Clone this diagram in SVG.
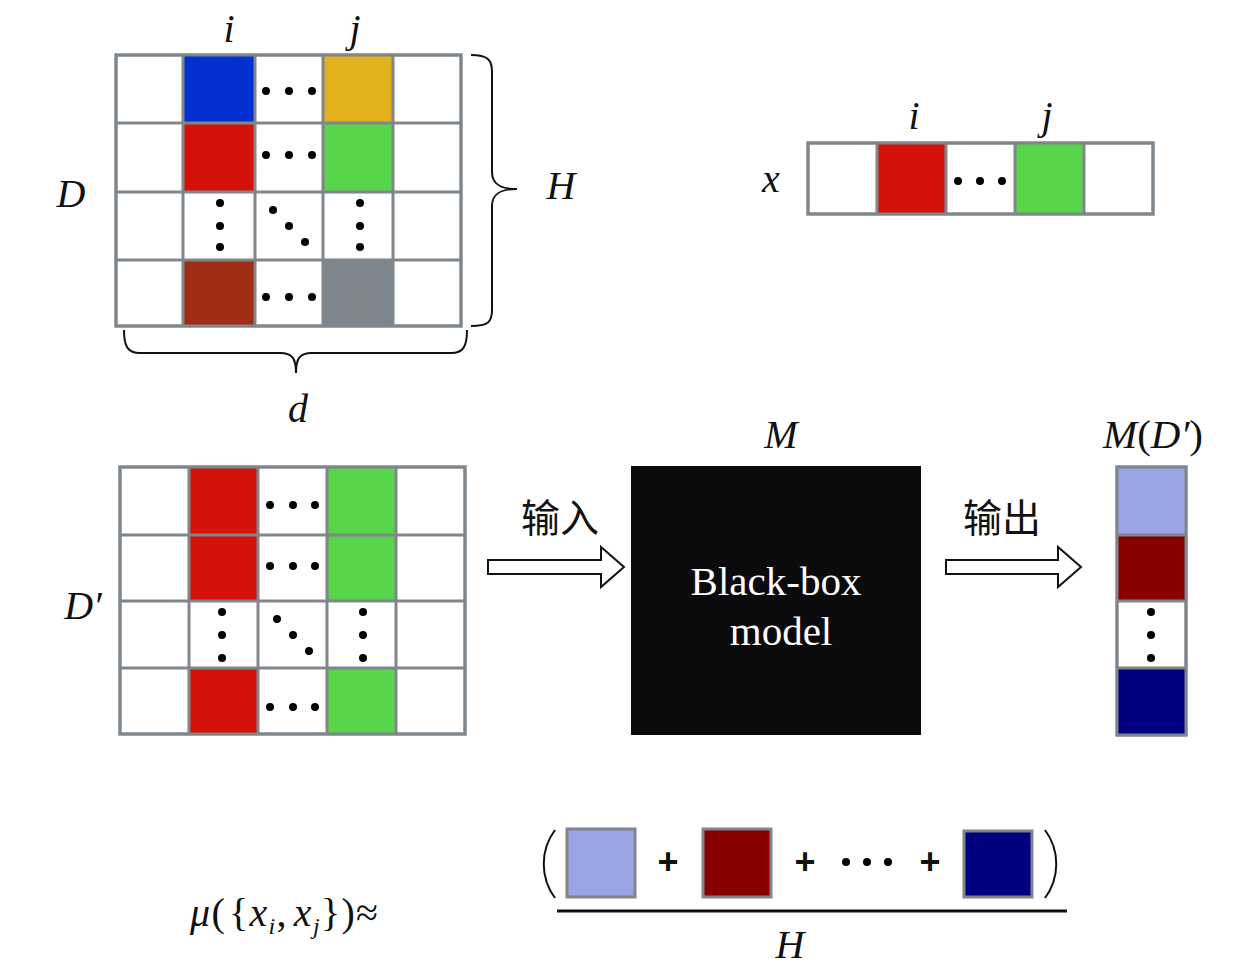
<svg xmlns="http://www.w3.org/2000/svg" width="1260" height="971" viewBox="0 0 1260 971">
<defs>
<style>
.cell{stroke:#7f868c;stroke-width:3;}
.w{fill:#ffffff;}
.m{font-family:"Liberation Serif",serif;font-style:italic;fill:#111;}
.t{font-family:"Liberation Serif",serif;fill:#fff;}
.cn{font-family:"Liberation Serif","Noto Sans CJK SC",sans-serif;fill:#111;font-size:39px;}
.br{fill:none;stroke:#111;stroke-width:2;}
.arr{fill:#fff;stroke:#111;stroke-width:2;}
.dot{fill:#000;}
.up{font-style:normal;}
</style>
</defs>
<rect width="1260" height="971" fill="#fff"/>

<!-- Top grid D -->
<g id="gridD">
<rect x="116" y="55" width="345" height="271" class="w cell"/>
<rect x="183" y="55" width="72" height="68" fill="#0330cf"/>
<rect x="323" y="55" width="70" height="68" fill="#e3b11e"/>
<rect x="183" y="123" width="72" height="69" fill="#d51209"/>
<rect x="323" y="123" width="70" height="69" fill="#58d64a"/>
<rect x="183" y="260" width="72" height="66" fill="#a22d15"/>
<rect x="323" y="260" width="70" height="66" fill="#7e868d"/>
<g class="cell" fill="none">
<rect x="116" y="55" width="345" height="271"/>
<line x1="183" y1="55" x2="183" y2="326"/>
<line x1="255" y1="55" x2="255" y2="326"/>
<line x1="323" y1="55" x2="323" y2="326"/>
<line x1="393" y1="55" x2="393" y2="326"/>
<line x1="116" y1="123" x2="461" y2="123"/>
<line x1="116" y1="192" x2="461" y2="192"/>
<line x1="116" y1="260" x2="461" y2="260"/>
</g>
<g class="dot">
<circle cx="266" cy="91" r="4"/><circle cx="289" cy="91" r="4"/><circle cx="312" cy="91" r="4"/>
<circle cx="266" cy="155" r="4"/><circle cx="289" cy="155" r="4"/><circle cx="312" cy="155" r="4"/>
<circle cx="266" cy="297" r="4"/><circle cx="289" cy="297" r="4"/><circle cx="312" cy="297" r="4"/>
<circle cx="220" cy="203" r="4"/><circle cx="220" cy="226" r="4"/><circle cx="220" cy="247" r="4"/>
<circle cx="360" cy="203" r="4"/><circle cx="360" cy="226" r="4"/><circle cx="360" cy="247" r="4"/>
<circle cx="273" cy="210" r="4"/><circle cx="289" cy="226" r="4"/><circle cx="305" cy="242" r="4"/>
</g>
<text x="229" y="42" class="m" font-size="40" text-anchor="middle">i</text>
<text x="355" y="42" class="m" font-size="40" text-anchor="middle">j</text>
<text x="71" y="207" class="m" font-size="40" text-anchor="middle">D</text>
<path class="br" d="M471,55 C488,55 492,60 492,72 L492,172 C492,184 500,189 517,189 C500,189 492,194 492,206 L492,310 C492,322 488,326 471,326"/>
<text x="561" y="199" class="m" font-size="40" text-anchor="middle">H</text>
<path class="br" d="M124,330 C124,347 128,353 140,353 L280,353 C292,353 296,358 296,373 C296,358 300,353 312,353 L451,353 C463,353 467,347 467,330"/>
<text x="298" y="422" class="m" font-size="40" text-anchor="middle">d</text>
</g>

<!-- Vector x -->
<g id="vecX">
<rect x="808" y="143" width="345" height="71" class="w cell"/>
<rect x="877" y="143" width="69" height="71" fill="#d51209"/>
<rect x="1015" y="143" width="69" height="71" fill="#58d64a"/>
<g class="cell" fill="none">
<rect x="808" y="143" width="345" height="71"/>
<line x1="877" y1="143" x2="877" y2="214"/>
<line x1="946" y1="143" x2="946" y2="214"/>
<line x1="1015" y1="143" x2="1015" y2="214"/>
<line x1="1084" y1="143" x2="1084" y2="214"/>
</g>
<g class="dot"><circle cx="958" cy="181" r="4"/><circle cx="980" cy="181" r="4"/><circle cx="1002" cy="181" r="4"/></g>
<text x="914" y="129" class="m" font-size="40" text-anchor="middle">i</text>
<text x="1047" y="129" class="m" font-size="40" text-anchor="middle">j</text>
<text x="771" y="192" class="m" font-size="40" text-anchor="middle">x</text>
</g>

<!-- Grid D' -->
<g id="gridDp">
<rect x="120" y="467" width="345" height="267" class="w cell"/>
<rect x="189" y="467" width="69" height="68" fill="#d51209"/>
<rect x="327" y="467" width="69" height="68" fill="#58d64a"/>
<rect x="189" y="535" width="69" height="66" fill="#d51209"/>
<rect x="327" y="535" width="69" height="66" fill="#58d64a"/>
<rect x="189" y="668" width="69" height="66" fill="#d51209"/>
<rect x="327" y="668" width="69" height="66" fill="#58d64a"/>
<g class="cell" fill="none">
<rect x="120" y="467" width="345" height="267"/>
<line x1="189" y1="467" x2="189" y2="734"/>
<line x1="258" y1="467" x2="258" y2="734"/>
<line x1="327" y1="467" x2="327" y2="734"/>
<line x1="396" y1="467" x2="396" y2="734"/>
<line x1="120" y1="535" x2="465" y2="535"/>
<line x1="120" y1="601" x2="465" y2="601"/>
<line x1="120" y1="668" x2="465" y2="668"/>
</g>
<g class="dot">
<circle cx="270" cy="505" r="4"/><circle cx="293" cy="505" r="4"/><circle cx="315" cy="505" r="4"/>
<circle cx="270" cy="566" r="4"/><circle cx="293" cy="566" r="4"/><circle cx="315" cy="566" r="4"/>
<circle cx="270" cy="707" r="4"/><circle cx="293" cy="707" r="4"/><circle cx="315" cy="707" r="4"/>
<circle cx="222" cy="612" r="4"/><circle cx="222" cy="635" r="4"/><circle cx="222" cy="658" r="4"/>
<circle cx="363" cy="612" r="4"/><circle cx="363" cy="635" r="4"/><circle cx="363" cy="658" r="4"/>
<circle cx="277" cy="619" r="4"/><circle cx="293" cy="635" r="4"/><circle cx="309" cy="651" r="4"/>
</g>
<text x="83" y="619" class="m" font-size="40" text-anchor="middle">D′</text>
</g>

<!-- Black box -->
<g id="blackbox">
<rect x="631" y="466" width="290" height="269" fill="#0b0b0d"/>
<text x="776" y="595" class="t" font-size="41" text-anchor="middle">Black-box</text>
<text x="781" y="645" class="t" font-size="41" text-anchor="middle">model</text>
<text x="781" y="448" class="m" font-size="40" text-anchor="middle">M</text>
</g>

<!-- Output column -->
<g id="output">
<rect x="1117" y="467" width="69" height="268" class="w cell"/>
<rect x="1117" y="467" width="69" height="68" fill="#9ba5e6"/>
<rect x="1117" y="535" width="69" height="66" fill="#880000"/>
<rect x="1117" y="668" width="69" height="67" fill="#000080"/>
<g class="cell" fill="none">
<rect x="1117" y="467" width="69" height="268"/>
<line x1="1117" y1="535" x2="1186" y2="535"/>
<line x1="1117" y1="601" x2="1186" y2="601"/>
<line x1="1117" y1="668" x2="1186" y2="668"/>
</g>
<g class="dot"><circle cx="1151" cy="612" r="4"/><circle cx="1151" cy="635" r="4"/><circle cx="1151" cy="658" r="4"/></g>
<text x="1153" y="448" class="m" font-size="41" text-anchor="middle">M<tspan class="up">(</tspan>D′<tspan class="up">)</tspan></text>
</g>

<!-- Connectors -->
<g id="connectors">
<path class="arr" d="M488,560 L601,560 L601,547 L624,567 L601,587 L601,574 L488,574 Z"/>
<text x="560" y="532" class="cn" text-anchor="middle">输入</text>
<path class="arr" d="M946,560 L1058,560 L1058,547 L1081,567 L1058,587 L1058,574 L946,574 Z"/>
<text x="1002" y="532" class="cn" text-anchor="middle">输出</text>
</g>

<!-- Formula -->
<g id="formula">
<text x="190" y="926" class="m" font-size="40" textLength="188" lengthAdjust="spacing">μ<tspan class="up">(</tspan><tspan class="up" dx="3">{</tspan>x<tspan font-size="24" dy="8">i</tspan><tspan dy="-8" class="up">,</tspan><tspan dx="6">x</tspan><tspan font-size="24" dy="8">j</tspan><tspan dy="-8" class="up">})≈</tspan></text>
<path d="M555,830 C540,850 540,878 555,898" fill="none" stroke="#111" stroke-width="2"/>
<rect x="567" y="829" width="68" height="68" fill="#9ba5e6" class="cell"/>
<text x="668" y="874" font-family="Liberation Sans,sans-serif" font-size="36" font-weight="bold" text-anchor="middle" fill="#111">+</text>
<rect x="703" y="829" width="68" height="68" fill="#880000" class="cell"/>
<text x="805" y="874" font-family="Liberation Sans,sans-serif" font-size="36" font-weight="bold" text-anchor="middle" fill="#111">+</text>
<g class="dot"><circle cx="846" cy="862" r="4"/><circle cx="867" cy="862" r="4"/><circle cx="888" cy="862" r="4"/></g>
<text x="930" y="874" font-family="Liberation Sans,sans-serif" font-size="36" font-weight="bold" text-anchor="middle" fill="#111">+</text>
<rect x="964" y="831" width="68" height="66" fill="#000080" class="cell"/>
<path d="M1045,830 C1060,850 1060,878 1045,898" fill="none" stroke="#111" stroke-width="2"/>
<line x1="557" y1="911" x2="1067" y2="911" stroke="#111" stroke-width="3"/>
<text x="790" y="958" class="m" font-size="40" text-anchor="middle">H</text>
</g>
</svg>
